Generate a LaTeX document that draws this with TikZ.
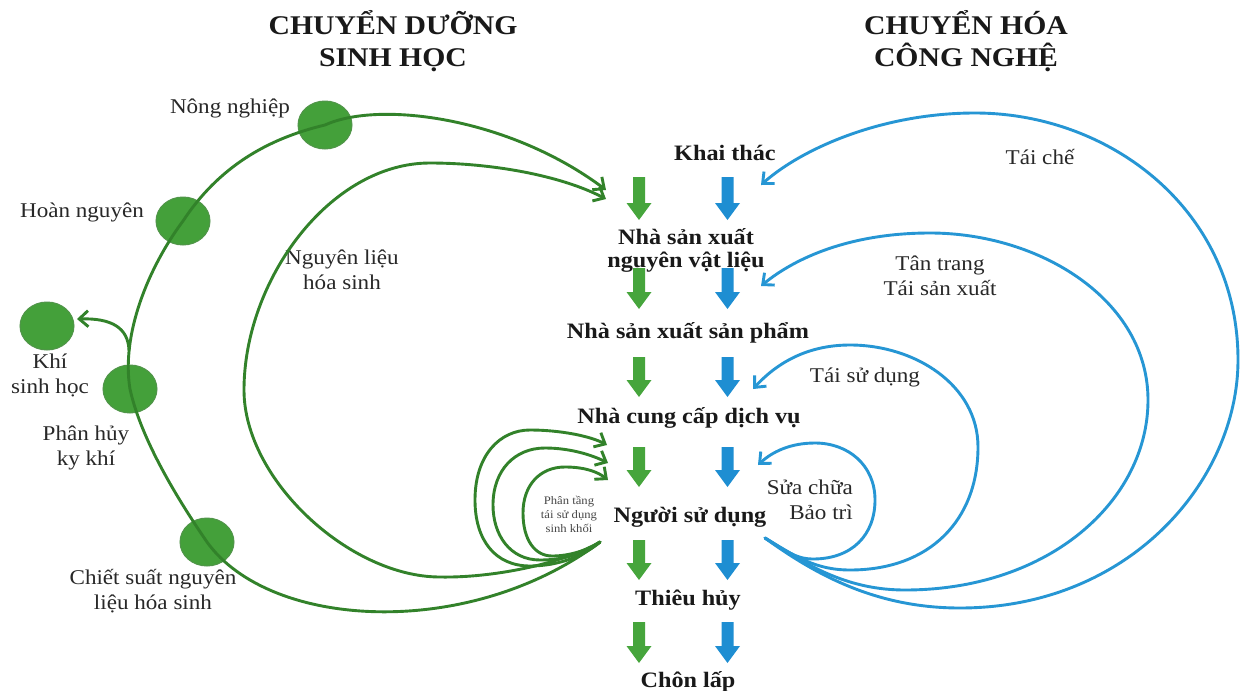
\documentclass[tikz,border=0pt]{standalone}
\usepackage{fontspec}
\setmainfont{Liberation Serif}[FakeStretch=1.1]
\usetikzlibrary{arrows.meta,shapes.geometric}
\definecolor{gline}{RGB}{50,130,42}
\definecolor{gfill}{RGB}{68,160,58}
\definecolor{gblk}{RGB}{70,165,60}
\definecolor{bline}{RGB}{38,150,212}
\definecolor{bblk}{RGB}{30,142,210}
\definecolor{txt}{RGB}{40,40,40}
\newcommand{\blkarr}[4]{%
  \fill[#4] (#1-6,#2) -- (#1+6,#2) -- (#1+6,#3-17) -- (#1+12.5,#3-17) -- (#1,#3)
    -- (#1-12.5,#3-17) -- (#1-6,#3-17) -- cycle;}
\tikzset{
  gcurve/.style={draw=gline, line width=2.9pt, line cap=round, -{Straight Barb[length=9pt,width=16pt]}},
  bcurve/.style={draw=bline, line width=2.9pt, line cap=round, -{Straight Barb[length=9pt,width=16pt]}},
  circ/.style={ellipse, fill=gfill, draw=gline!85, line width=1pt, minimum width=54pt, minimum height=48pt, inner sep=0pt},
  lbl/.style={font=\fontsize{21}{25}\selectfont, text=txt, align=center, inner sep=0pt},
  blbl/.style={font=\fontsize{22}{22}\selectfont\bfseries, text=black!90, align=center, inner sep=0pt},
  ttl/.style={font=\fontsize{27}{32}\selectfont\bfseries, text=black!90, align=center, inner sep=0pt},
  sm/.style={font=\fontsize{11.5}{14}\selectfont, text=txt!85, align=center, inner sep=0pt}
}
\begin{document}
\begin{tikzpicture}[x=1pt,y=-1pt]
\fill[white] (0,0) rectangle (1243,691);
\useasboundingbox (0,0) rectangle (1243,691);

% titles
\node[ttl] (tl) at (393,41) {CHUYỂN DƯỠNG\\SINH HỌC};
\node[ttl] (tr) at (966,41) {CHUYỂN HÓA\\CÔNG NGHỆ};

% centre column
\node[blbl] (kt)  at (725,153) {Khai thác};
\node[blbl] (nsx) at (686,250) {Nhà sản xuất\\[1pt]nguyên vật liệu};
\node[blbl] (nsp) at (688,333) {Nhà sản xuất sản phẩm};
\node[blbl] (ncc) at (689,418) {Nhà cung cấp dịch vụ};
\node[blbl] (nsd) at (690,517) {Người sử dụng};
\node[blbl] (th)  at (688,600) {Thiêu hủy};
\node[blbl] (cl)  at (688,682) {Chôn lấp};

% block arrows
\foreach \ya/\yb in {177/220, 268/309, 357/397, 447/487, 540/580, 622/663}{
  \blkarr{639}{\ya}{\yb}{gblk}
  \blkarr{727.5}{\ya}{\yb}{bblk}
}

% circles
\node[circ] (c1) at (325,125) {};
\node[circ] (c2) at (183,221) {};
\node[circ] (c3) at (47,326) {};
\node[circ] (c4) at (130,389) {};
\node[circ] (c5) at (207,542) {};

% circle labels
\node[lbl] (l1) at (230,108) {Nông nghiệp};
\node[lbl] (l2) at (82,212) {Hoàn nguyên};
\node[lbl] (l3) at (50,375) {Khí\\sinh học};
\node[lbl] (l4) at (86,448) {Phân hủy\\ky khí};
\node[lbl] (l5) at (153,591) {Chiết suất nguyên\\liệu hóa sinh};
\node[lbl] (l6) at (342,270) {Nguyên liệu\\hóa sinh};
\node[sm]  (l7) at (569,514) {Phân tầng\\tái sử dụng\\sinh khối};

% right labels
\node[lbl] (r1) at (1040,157) {Tái chế};
\node[lbl] (r2) at (940,276) {Tân trang\\Tái sản xuất};
\node[lbl] (r3) at (865,377) {Tái sử dụng};
\node[lbl, align=right, anchor=east] (r4) at (853,500) {Sửa chữa\\Bảo trì};

% anchor coordinates
\coordinate (gs) at (600,542);
\coordinate (gt1) at (606,190);
\coordinate (gt2) at (606,199);
\coordinate (gt3) at (607,445);
\coordinate (gt4) at (608,463);
\coordinate (gt5) at (608,480);
\coordinate (kb) at (129,350);
\coordinate (kt3) at (77,319);
\coordinate (bs) at (765,538);
\coordinate (bt1) at (758,465);
\coordinate (bt2) at (753,389);
\coordinate (bt3) at (761,286);
\coordinate (bt4) at (761,185);

% green curves
\draw[gcurve] (gs) .. controls (470,640) and (270,630) .. (c5.center)
  .. controls (172,491) and (140,435) .. (c4.center)
  .. controls (121,335) and (148,268) .. (c2.center)
  .. controls (218,168) and (266,139) .. (c1.center)
  .. controls (380,100) and (510,118) .. (gt1);
\draw[gcurve] (kb) .. controls (128,328) and (112,318) .. (kt3);
\draw[gcurve] (gs) .. controls (560,565) and (490,578) .. (440,577)
  .. controls (350,577) and (244,480) .. (244,390)
  .. controls (244,280) and (330,163) .. (430,163)
  .. controls (490,163) and (560,175) .. (gt2);
\draw[gcurve] (gs) .. controls (585,555) and (560,566) .. (530,566)
  .. controls (495,566) and (475,540) .. (475,500)
  .. controls (475,455) and (500,430) .. (530,430)
  .. controls (560,430) and (590,436) .. (gt3);
\draw[gcurve] (gs) .. controls (585,553) and (565,560) .. (540,560)
  .. controls (510,560) and (493,535) .. (493,505)
  .. controls (493,470) and (515,448) .. (545,448)
  .. controls (570,448) and (592,455) .. (gt4);
\draw[gcurve] (gs) .. controls (588,550) and (570,556) .. (552,556)
  .. controls (535,556) and (523,540) .. (523,513)
  .. controls (523,485) and (540,467) .. (565,467)
  .. controls (585,467) and (598,472) .. (gt5);

% blue curves
\draw[bcurve] (bs) .. controls (785,550) and (795,559) .. (813,559)
  .. controls (852,559) and (875,535) .. (875,500)
  .. controls (875,465) and (848,443) .. (815,443)
  .. controls (790,443) and (772,452) .. (bt1);
\draw[bcurve] (bs) .. controls (795,556) and (815,570) .. (850,570)
  .. controls (930,570) and (978,520) .. (978,447)
  .. controls (978,385) and (915,345) .. (850,345)
  .. controls (805,345) and (775,365) .. (bt2);
\draw[bcurve] (bs) .. controls (810,568) and (850,590) .. (905,590)
  .. controls (1050,590) and (1148,500) .. (1148,400)
  .. controls (1148,300) and (1040,233) .. (930,233)
  .. controls (850,233) and (795,258) .. (bt3);
\draw[bcurve] (bs) .. controls (820,578) and (880,608) .. (960,608)
  .. controls (1130,608) and (1238,480) .. (1238,360)
  .. controls (1238,210) and (1110,113) .. (975,113)
  .. controls (880,113) and (800,150) .. (bt4);
\end{tikzpicture}
\end{document}
